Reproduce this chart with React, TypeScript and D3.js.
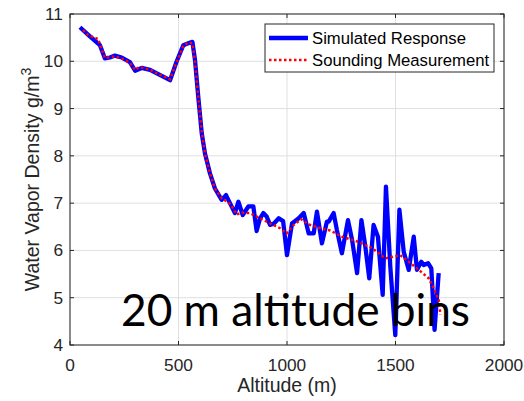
import React from "react";
import * as d3 from "d3";

const simAlt = [46, 84, 138, 161, 184, 207, 238, 276, 300, 330, 369, 407, 461, 491, 522, 545, 564, 576, 591, 607, 622, 645, 668, 699, 719, 737, 760, 776, 796, 822, 845, 860, 876, 891, 906, 922, 940, 962, 982, 1000, 1023, 1054, 1077, 1100, 1123, 1138, 1161, 1184, 1192, 1215, 1230, 1253, 1281, 1300, 1323, 1343, 1361, 1379, 1399, 1419, 1441, 1456, 1476, 1499, 1518, 1538, 1561, 1584, 1599, 1619, 1630, 1650, 1665, 1680, 1699];
const simVal = [10.72, 10.56, 10.34, 10.06, 10.08, 10.12, 10.08, 9.98, 9.8, 9.86, 9.82, 9.73, 9.6, 9.99, 10.34, 10.38, 10.41, 10.03, 9.25, 8.48, 8.05, 7.63, 7.31, 7.07, 7.17, 7.0, 6.79, 7.03, 6.75, 6.93, 6.93, 6.41, 6.68, 6.79, 6.72, 6.54, 6.57, 6.68, 6.62, 5.9, 6.57, 6.68, 6.79, 6.36, 6.36, 6.82, 6.15, 6.61, 6.61, 6.79, 6.43, 5.94, 6.64, 6.22, 5.52, 6.64, 6.08, 5.41, 6.54, 6.29, 5.06, 7.35, 5.66, 4.21, 6.86, 5.97, 5.59, 6.29, 5.59, 5.76, 5.69, 5.73, 5.62, 4.32, 5.52];

const sndAlt = [60, 84, 130, 140, 161, 184, 207, 238, 276, 300, 320, 369, 407, 461, 491, 522, 545, 564, 576, 591, 607, 622, 645, 668, 699, 730, 750, 768, 791, 829, 876, 922, 968, 998, 1031, 1065, 1100, 1154, 1200, 1253, 1323, 1392, 1453, 1491, 1522, 1561, 1607, 1653, 1676, 1699, 1707];
const sndVal = [10.66, 10.55, 10.47, 10.33, 10.07, 10.09, 10.1, 10.06, 9.97, 9.82, 9.88, 9.82, 9.73, 9.62, 9.98, 10.32, 10.4, 10.38, 10.0, 9.25, 8.5, 8.05, 7.63, 7.31, 7.1, 7.02, 6.9, 6.76, 6.8, 6.79, 6.68, 6.57, 6.47, 6.36, 6.54, 6.66, 6.55, 6.47, 6.42, 6.29, 6.19, 6.05, 5.83, 5.87, 5.9, 5.76, 5.59, 5.41, 5.2, 4.95, 4.64];

const xTicks = [0, 500, 1000, 1500, 2000];
const yTicks = [4, 5, 6, 7, 8, 9, 10, 11];
const legendLabels = ["Simulated Response", "Sounding Measurement"];
const annotation = "20 m altitude bins";

export default function App() {
  const W = 524, H = 401;
  const L = 70, R = 504, T = 14, B = 345;
  const x = d3.scaleLinear().domain([0, 2000]).range([L, R]);
  const y = d3.scaleLinear().domain([4, 11]).range([B, T]);
  const line = d3.line<[number, number]>().x(d => x(d[0])).y(d => y(d[1]));
  const simPts = simAlt.map((a, i) => [a, simVal[i]] as [number, number]);
  const sndPts = sndAlt.map((a, i) => [a, sndVal[i]] as [number, number]);
  const font = "'Liberation Sans', Arial, sans-serif";
  const txt = "#262626";
  return (
    <svg width={W} height={H} style={{ position: "absolute", left: 0, top: 0, background: "#fff" }} fontFamily={font}>
      <rect x={0} y={0} width={W} height={H} fill="#fff" />
      {xTicks.map(t => (
        <line key={"gx" + t} x1={x(t)} x2={x(t)} y1={T} y2={B} stroke="#dfdfdf" strokeWidth={1} />
      ))}
      {yTicks.map(t => (
        <line key={"gy" + t} x1={L} x2={R} y1={y(t)} y2={y(t)} stroke="#dfdfdf" strokeWidth={1} />
      ))}
      <path d={line(simPts) || ""} fill="none" stroke="#0000ff" strokeWidth={4.3} strokeLinejoin="round" />
      <path d={line(sndPts) || ""} fill="none" stroke="#ff0000" strokeWidth={2.5} strokeDasharray="2.5 2.5" />
      <rect x={L} y={T} width={R - L} height={B - T} fill="none" stroke="#262626" strokeWidth={1} />
      {xTicks.map(t => (
        <g key={"tx" + t}>
          <line x1={x(t)} x2={x(t)} y1={B} y2={B - 4} stroke="#262626" />
          <line x1={x(t)} x2={x(t)} y1={T} y2={T + 4} stroke="#262626" />
          <text x={x(t)} y={B + 26} textAnchor="middle" fontSize={17.3} fill={txt}>{t}</text>
        </g>
      ))}
      {yTicks.map(t => (
        <g key={"ty" + t}>
          <line x1={L} x2={L + 4} y1={y(t)} y2={y(t)} stroke="#262626" />
          <line x1={R} x2={R - 4} y1={y(t)} y2={y(t)} stroke="#262626" />
          <text x={L - 7} y={y(t) + 6} textAnchor="end" fontSize={17.3} fill={txt}>{t}</text>
        </g>
      ))}
      <text x={(L + R) / 2} y={392} textAnchor="middle" fontSize={19.5} fill={txt}>Altitude (m)</text>
      <text transform={`translate(39, ${(T + B) / 2}) rotate(-90)`} textAnchor="middle" fontSize={19.5} fill={txt}>
        Water Vapor Density g/m<tspan dy={-8} fontSize={14}>3</tspan>
      </text>
      <g>
        <rect x={265} y={24} width={229} height={48} fill="#fff" stroke="#262626" strokeWidth={1} />
        <line x1={269} x2={308} y1={38} y2={38} stroke="#0000ff" strokeWidth={4.3} />
        <line x1={269} x2={308} y1={60} y2={60} stroke="#ff0000" strokeWidth={2.5} strokeDasharray="2.5 2.5" />
        <text x={312} y={44} fontSize={16.7} fill="#000">{legendLabels[0]}</text>
        <text x={312} y={66} fontSize={16.7} fill="#000">{legendLabels[1]}</text>
      </g>
      <text x={121} y={326} fontSize={44} fontFamily="Lato, 'Open Sans', sans-serif" fill="#000" textLength={349} lengthAdjust="spacingAndGlyphs">{annotation}</text>
    </svg>
  );
}
